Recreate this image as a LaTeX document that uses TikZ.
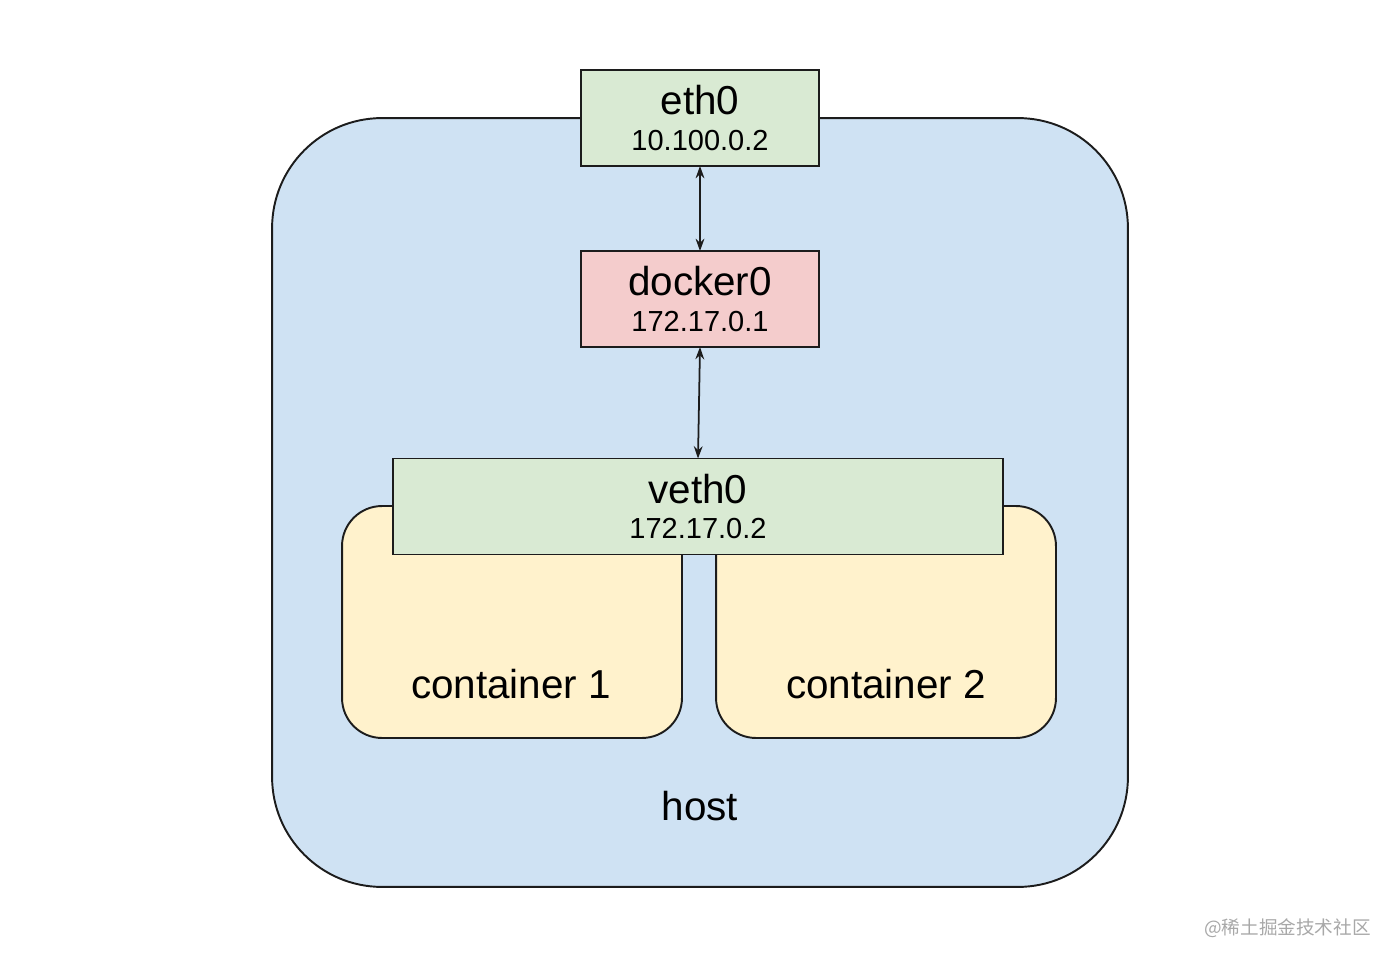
\documentclass[tikz,border=0pt]{standalone}
\usepackage{fontspec}
\setmainfont{Liberation Sans}
\newfontfamily\cjkfont{Noto Sans CJK SC}
\usetikzlibrary{arrows.meta}

\definecolor{linie}{HTML}{1C1C1C}
\definecolor{hostfarbe}{HTML}{CFE2F3}
\definecolor{gruen}{HTML}{D9EAD3}
\definecolor{rot}{HTML}{F4CCCC}
\definecolor{gelb}{HTML}{FFF2CC}
\definecolor{wasserzeichen}{HTML}{A8A8A8}

\newcommand{\gross}{\fontsize{23}{26}\selectfont}
\newcommand{\klein}{\fontsize{16.5}{19}\selectfont}

\begin{document}
\begin{tikzpicture}[x=0.02cm,y=-0.02cm,
  kasten/.style={draw=linie, line width=1.1pt, inner sep=0pt, outer sep=0pt,
    align=center, minimum height=1.92cm, font=\gross},
  behaelter/.style={draw=linie, line width=1.1pt, fill=gelb, inner sep=0pt,
    rounded corners=0.8cm, minimum width=6.8cm, minimum height=4.64cm},
  pfeil/.style={{Stealth[length=7pt,width=5pt]}-{Stealth[length=7pt,width=5pt]}, line width=1pt, linie}]

  % Rahmen
  \useasboundingbox (0,0) rectangle (1400,963);

  % Host
  \node[draw=linie, line width=1.1pt, fill=hostfarbe, rounded corners=2.2cm,
    minimum width=17.12cm, minimum height=15.38cm] (host) at (700,502.5) {};
  \node[anchor=base, font=\gross] (hosttext) at (700,820) {host};

  % Container
  \node[behaelter] (c1) at (512,622) {};
  \node[behaelter] (c2) at (886,622) {};
  \node[anchor=base, font=\gross] (c1text) at (511,698) {container 1};
  \node[anchor=base, font=\gross] (c2text) at (886,698) {container 2};

  % Schnittstellen
  \node[kasten, fill=gruen, minimum width=4.76cm] (eth0) at (700,118)
    {eth0\\[-6pt]{\klein 10.100.0.2}};
  \node[kasten, fill=rot, minimum width=4.76cm] (docker0) at (700,299)
    {docker0\\[-6pt]{\klein 172.17.0.1}};
  \node[kasten, fill=gruen, minimum width=12.2cm] (veth0) at (698,506.5)
    {veth0\\[-6pt]{\klein 172.17.0.2}};

  % Verbindungen
  \draw[pfeil] (eth0.south) -- (docker0.north);
  \draw[pfeil] (docker0.south) -- (veth0.north);

  % Wasserzeichen
  \node[anchor=base east, text=wasserzeichen, font=\cjkfont\fontsize{10.6}{12}\selectfont]
    (marke) at (1377,934) {@稀土掘金技术社区};

\end{tikzpicture}
\end{document}
